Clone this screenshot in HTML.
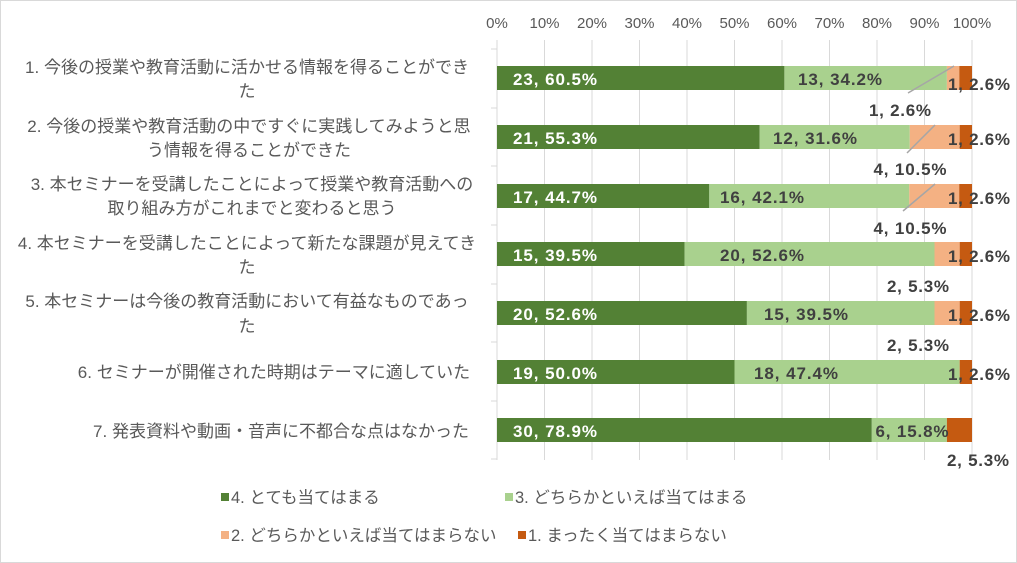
<!DOCTYPE html>
<html><head><meta charset="utf-8"><style>
html,body{margin:0;padding:0;background:#fff}
svg{display:block}
text{font-family:"Liberation Sans","Noto Sans CJK JP",sans-serif}
.c{font-size:17px;fill:#595959}
.d{font-size:17px;font-weight:bold;fill:#404040}
.w{font-size:17px;font-weight:bold;fill:#fff}
.t{font-size:15px;fill:#595959}
.l{font-size:16.5px;fill:#595959}
</style></head><body>
<svg width="1017" height="563" viewBox="0 0 1017 563">
<rect x="0.5" y="0.5" width="1016" height="562" fill="#fff" stroke="#d9d9d9"/>
<g stroke="#d9d9d9" stroke-width="1">
<line x1="544.5" y1="40" x2="544.5" y2="460"/><line x1="592" y1="40" x2="592" y2="460"/>
<line x1="639.5" y1="40" x2="639.5" y2="460"/><line x1="687" y1="40" x2="687" y2="460"/>
<line x1="734.5" y1="40" x2="734.5" y2="460"/><line x1="782" y1="40" x2="782" y2="460"/>
<line x1="829.5" y1="40" x2="829.5" y2="460"/><line x1="877" y1="40" x2="877" y2="460"/>
<line x1="924.5" y1="40" x2="924.5" y2="460"/><line x1="972" y1="40" x2="972" y2="460"/>
<line x1="497" y1="40" x2="497" y2="460"/>
<line x1="491" y1="49" x2="497" y2="49"/><line x1="491" y1="108" x2="497" y2="108"/>
<line x1="491" y1="166" x2="497" y2="166"/><line x1="491" y1="225" x2="497" y2="225"/>
<line x1="491" y1="284" x2="497" y2="284"/><line x1="491" y1="342" x2="497" y2="342"/>
<line x1="491" y1="401" x2="497" y2="401"/><line x1="491" y1="459" x2="497" y2="459"/>
</g>
<g class="t" text-anchor="middle">
<text x="497" y="28">0%</text><text x="544.5" y="28">10%</text><text x="592" y="28">20%</text>
<text x="639.5" y="28">30%</text><text x="687" y="28">40%</text><text x="734.5" y="28">50%</text>
<text x="782" y="28">60%</text><text x="829.5" y="28">70%</text><text x="877" y="28">80%</text>
<text x="924.5" y="28">90%</text><text x="972" y="28">100%</text>
</g>
<g class="c" text-anchor="middle">
<text x="247" y="73">1. 今後の授業や教育活動に活かせる情報を得ることができ</text><text x="247" y="97">た</text>
<text x="249" y="132">2. 今後の授業や教育活動の中ですぐに実践してみようと思</text><text x="249" y="156">う情報を得ることができた</text>
<text x="252" y="190">3. 本セミナーを受講したことによって授業や教育活動への</text><text x="252" y="214">取り組み方がこれまでと変わると思う</text>
<text x="247" y="249">4. 本セミナーを受講したことによって新たな課題が見えてき</text><text x="247" y="273">た</text>
<text x="247" y="307">5. 本セミナーは今後の教育活動において有益なものであっ</text><text x="247" y="332">た</text>
<text x="274" y="378">6. セミナーが開催された時期はテーマに適していた</text>
<text x="281" y="437">7. 発表資料や動画・音声に不都合な点はなかった</text>
</g>
<g>
<rect x="497" y="66" width="287.4" height="24" fill="#538135"/><rect x="784.4" y="66" width="162.5" height="24" fill="#a9d18e"/><rect x="946.9" y="66" width="12.4" height="24" fill="#f4b183"/><rect x="959.3" y="66" width="12.7" height="24" fill="#c55a11"/>
<rect x="497" y="125" width="262.7" height="24" fill="#538135"/><rect x="759.7" y="125" width="150.1" height="24" fill="#a9d18e"/><rect x="909.8" y="125" width="49.9" height="24" fill="#f4b183"/><rect x="959.7" y="125" width="12.3" height="24" fill="#c55a11"/>
<rect x="497" y="184" width="212.3" height="24" fill="#538135"/><rect x="709.3" y="184" width="200" height="24" fill="#a9d18e"/><rect x="909.3" y="184" width="49.9" height="24" fill="#f4b183"/><rect x="959.2" y="184" width="12.8" height="24" fill="#c55a11"/>
<rect x="497" y="242" width="187.6" height="24" fill="#538135"/><rect x="684.6" y="242" width="249.9" height="24" fill="#a9d18e"/><rect x="934.5" y="242" width="25.2" height="24" fill="#f4b183"/><rect x="959.7" y="242" width="12.3" height="24" fill="#c55a11"/>
<rect x="497" y="301" width="249.9" height="24" fill="#538135"/><rect x="746.9" y="301" width="187.6" height="24" fill="#a9d18e"/><rect x="934.5" y="301" width="25.2" height="24" fill="#f4b183"/><rect x="959.7" y="301" width="12.3" height="24" fill="#c55a11"/>
<rect x="497" y="360" width="237.5" height="24" fill="#538135"/><rect x="734.5" y="360" width="225.2" height="24" fill="#a9d18e"/><rect x="959.7" y="360" width="12.3" height="24" fill="#c55a11"/>
<rect x="497" y="418" width="374.8" height="24" fill="#538135"/><rect x="871.8" y="418" width="75.1" height="24" fill="#a9d18e"/><rect x="946.9" y="418" width="25.1" height="24" fill="#c55a11"/>
</g>
<g stroke="#a6a6a6" stroke-width="1.5">
<line x1="954" y1="66" x2="908" y2="93"/>
<line x1="935" y1="125" x2="907" y2="153"/>
<line x1="935" y1="184" x2="903" y2="211"/>
</g>
<g class="w" text-anchor="middle">
<text x="555" y="85" textLength="84">23, 60.5%</text><text x="555" y="144" textLength="84">21, 55.3%</text><text x="555" y="203" textLength="84">17, 44.7%</text>
<text x="555" y="261" textLength="84">15, 39.5%</text><text x="555" y="320" textLength="84">20, 52.6%</text><text x="555" y="379" textLength="84">19, 50.0%</text><text x="555" y="437" textLength="84">30, 78.9%</text>
</g>
<g class="d" text-anchor="middle">
<text x="840" y="85" textLength="84">13, 34.2%</text><text x="815" y="144" textLength="84">12, 31.6%</text><text x="762" y="203" textLength="84">16, 42.1%</text>
<text x="762" y="261" textLength="84">20, 52.6%</text><text x="806" y="320" textLength="84">15, 39.5%</text><text x="796" y="379" textLength="84">18, 47.4%</text><text x="912" y="437" textLength="73">6, 15.8%</text>
<text x="900" y="116" textLength="62">1, 2.6%</text><text x="910" y="175" textLength="73">4, 10.5%</text><text x="910" y="234" textLength="73">4, 10.5%</text>
<text x="918" y="292" textLength="62">2, 5.3%</text><text x="918" y="351" textLength="62">2, 5.3%</text><text x="978" y="466" textLength="62">2, 5.3%</text>
<text x="979" y="90" textLength="62">1, 2.6%</text><text x="979" y="145" textLength="62">1, 2.6%</text><text x="979" y="204" textLength="62">1, 2.6%</text>
<text x="979" y="262" textLength="62">1, 2.6%</text><text x="979" y="321" textLength="62">1, 2.6%</text><text x="979" y="380" textLength="62">1, 2.6%</text>
</g>
<rect x="221" y="493" width="8" height="8" fill="#538135"/><text class="l" x="231" y="503">4. とても当てはまる</text>
<rect x="505" y="493" width="8" height="8" fill="#a9d18e"/><text class="l" x="515" y="503">3. どちらかといえば当てはまる</text>
<rect x="221" y="531" width="8" height="8" fill="#f4b183"/><text class="l" x="231" y="541">2. どちらかといえば当てはまらない</text>
<rect x="518" y="531" width="8" height="8" fill="#c55a11"/><text class="l" x="528" y="541">1. まったく当てはまらない</text>
</svg>
</body></html>
